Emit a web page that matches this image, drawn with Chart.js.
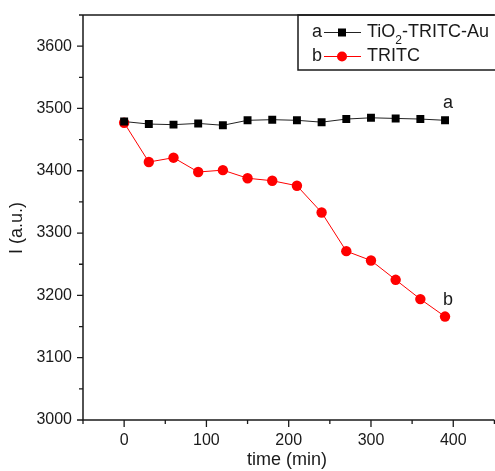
<!DOCTYPE html>
<html>
<head>
<meta charset="utf-8">
<script src="https://cdn.jsdelivr.net/npm/chart.js@4"></script>
<style>
  html, body { margin: 0; padding: 0; overflow: hidden; background: #fff; }
  #chart { display: block; width: 500px; height: 471px; }
</style>
</head>
<body>
<canvas id="chart" width="500" height="471"></canvas>
<script>
// data
const times = [0, 30, 60, 90, 120, 150, 180, 210, 240, 270, 300, 330, 360, 390];
const tioValues = [3479, 3475, 3474, 3476, 3473, 3481, 3482, 3481, 3478, 3483, 3485, 3484, 3483, 3481];
const tritcValues = [3477, 3414, 3421, 3398, 3401, 3388, 3384, 3376, 3333, 3271, 3256, 3225, 3194, 3166];
const seriesNames = ['TiO2-TRITC-Au', 'TRITC'];
const seriesTags = ['a', 'b'];
const xTickLabels = [0, 100, 200, 300, 400];
const yTickLabels = [3000, 3100, 3200, 3300, 3400, 3500, 3600];

const FONT = 'Arial, "Liberation Sans", Helvetica, sans-serif';
const INK = '#1a1a1a';

function toPoints(values) {
    return times.map((t, i) => ({ x: t, y: values[i] }));
}

// frame, outward tick marks, titles, legend and end labels
const decorations = {
    id: 'decorations',
    afterDraw(chart) {
        const ctx = chart.ctx;
        const area = chart.chartArea;
        const xs = chart.scales.x, ys = chart.scales.y;
        ctx.save();
        ctx.strokeStyle = INK;
        ctx.lineWidth = 1.5;
        ctx.beginPath();
        ctx.moveTo(area.left, area.top);
        ctx.lineTo(area.left, area.bottom);
        ctx.lineTo(area.right, area.bottom);
        ctx.moveTo(area.left, area.top);
        ctx.lineTo(area.right, area.top);
        ctx.stroke();

        ctx.lineWidth = 1.3;
        ctx.beginPath();
        xs.ticks.forEach(t => {
            const px = xs.getPixelForValue(t.value);
            const len = t.value % 100 === 0 ? 7 : 4;
            ctx.moveTo(px, area.bottom);
            ctx.lineTo(px, area.bottom + len);
        });
        ys.ticks.forEach(t => {
            const py = ys.getPixelForValue(t.value);
            const len = t.value % 100 === 0 ? 6 : 4;
            ctx.moveTo(area.left, py);
            ctx.lineTo(area.left - len, py);
        });
        ctx.stroke();

        // axis titles
        ctx.fillStyle = INK;
        ctx.font = '18px ' + FONT;
        ctx.textAlign = 'center';
        ctx.textBaseline = 'middle';
        ctx.fillText('time (min)', 287, 460);
        ctx.save();
        ctx.translate(17, 228);
        ctx.rotate(-Math.PI / 2);
        ctx.fillText('I (a.u.)', 0, 0);
        ctx.restore();

        // legend box
        ctx.lineWidth = 1.5;
        ctx.strokeRect(298, area.top, 230, 55);
        const rows = [32.5, 56.5];
        chart.data.datasets.forEach((ds, i) => {
            const y = rows[i];
            ctx.fillStyle = INK;
            ctx.textAlign = 'left';
            ctx.font = '18px ' + FONT;
            ctx.fillText(seriesTags[i], 312, y);
            ctx.strokeStyle = ds.borderColor;
            ctx.lineWidth = 1.2;
            ctx.beginPath();
            ctx.moveTo(324, y);
            ctx.lineTo(361, y);
            ctx.stroke();
            ctx.fillStyle = ds.pointBackgroundColor;
            if (ds.pointStyle === 'rect') {
                ctx.fillRect(338, y - 4, 8, 8);
            } else {
                ctx.beginPath();
                ctx.arc(342, y, 5, 0, Math.PI * 2);
                ctx.fill();
            }
            ctx.fillStyle = INK;
            if (i === 0) {
                let x = 367;
                ctx.fillText('TiO', x, y);
                x += ctx.measureText('TiO').width;
                ctx.font = '12px ' + FONT;
                ctx.fillText('2', x, y + 8);
                x += ctx.measureText('2').width;
                ctx.font = '18px ' + FONT;
                ctx.fillText('-TRITC-Au', x, y);
            } else {
                ctx.fillText(seriesNames[1], 367, y);
            }
        });

        // series tags next to last points
        ctx.font = '18px ' + FONT;
        ctx.textAlign = 'center';
        ctx.fillStyle = INK;
        chart.data.datasets.forEach((ds, i) => {
            const pts = chart.getDatasetMeta(i).data;
            const last = pts[pts.length - 1];
            ctx.fillText(seriesTags[i], last.x + 3, last.y - 17);
        });
        ctx.restore();
    }
};

new Chart(document.getElementById('chart'), {
    type: 'line',
    data: {
        datasets: [{
            label: seriesNames[0],
            data: toPoints(tioValues),
            borderColor: '#222',
            borderWidth: 1,
            pointStyle: 'rect',
            pointRadius: 5.6,
            pointBackgroundColor: '#000',
            pointBorderWidth: 0
        }, {
            label: seriesNames[1],
            data: toPoints(tritcValues),
            borderColor: '#ff0000',
            borderWidth: 1,
            pointStyle: 'circle',
            pointRadius: 5.2,
            pointBackgroundColor: '#ff0000',
            pointBorderWidth: 0
        }]
    },
    options: {
        responsive: false,
        animation: false,
        layout: { padding: { top: 15, right: 1, left: 0, bottom: 0 } },
        plugins: { legend: { display: false }, tooltip: { enabled: false } },
        scales: {
            x: {
                type: 'linear',
                min: -50,
                max: 450,
                afterFit(scale) {
                    scale.height = 51;
                    scale.paddingLeft = 0;
                    scale.paddingRight = 0;
                },
                afterBuildTicks(scale) {
                    const t = [];
                    for (let v = -50; v <= 450; v += 50) t.push({ value: v });
                    scale.ticks = t;
                },
                grid: { display: false, drawTicks: false },
                border: { display: false },
                ticks: {
                    padding: 11,
                    maxRotation: 0,
                    autoSkip: false,
                    color: INK,
                    font: { family: FONT, size: 16 },
                    callback: v => xTickLabels.includes(v) ? String(v) : ''
                }
            },
            y: {
                type: 'linear',
                min: 3000,
                max: 3650,
                afterFit(scale) {
                    scale.width = 83;
                    scale.paddingTop = 0;
                    scale.paddingBottom = 0;
                },
                afterBuildTicks(scale) {
                    const t = [];
                    for (let v = 3000; v <= 3650; v += 50) t.push({ value: v });
                    scale.ticks = t;
                },
                grid: { display: false, drawTicks: false },
                border: { display: false },
                ticks: {
                    padding: 11,
                    autoSkip: false,
                    color: INK,
                    font: { family: FONT, size: 16 },
                    callback: v => yTickLabels.includes(v) ? String(v) : ''
                }
            }
        }
    },
    plugins: [decorations]
});
</script>
</body>
</html>
